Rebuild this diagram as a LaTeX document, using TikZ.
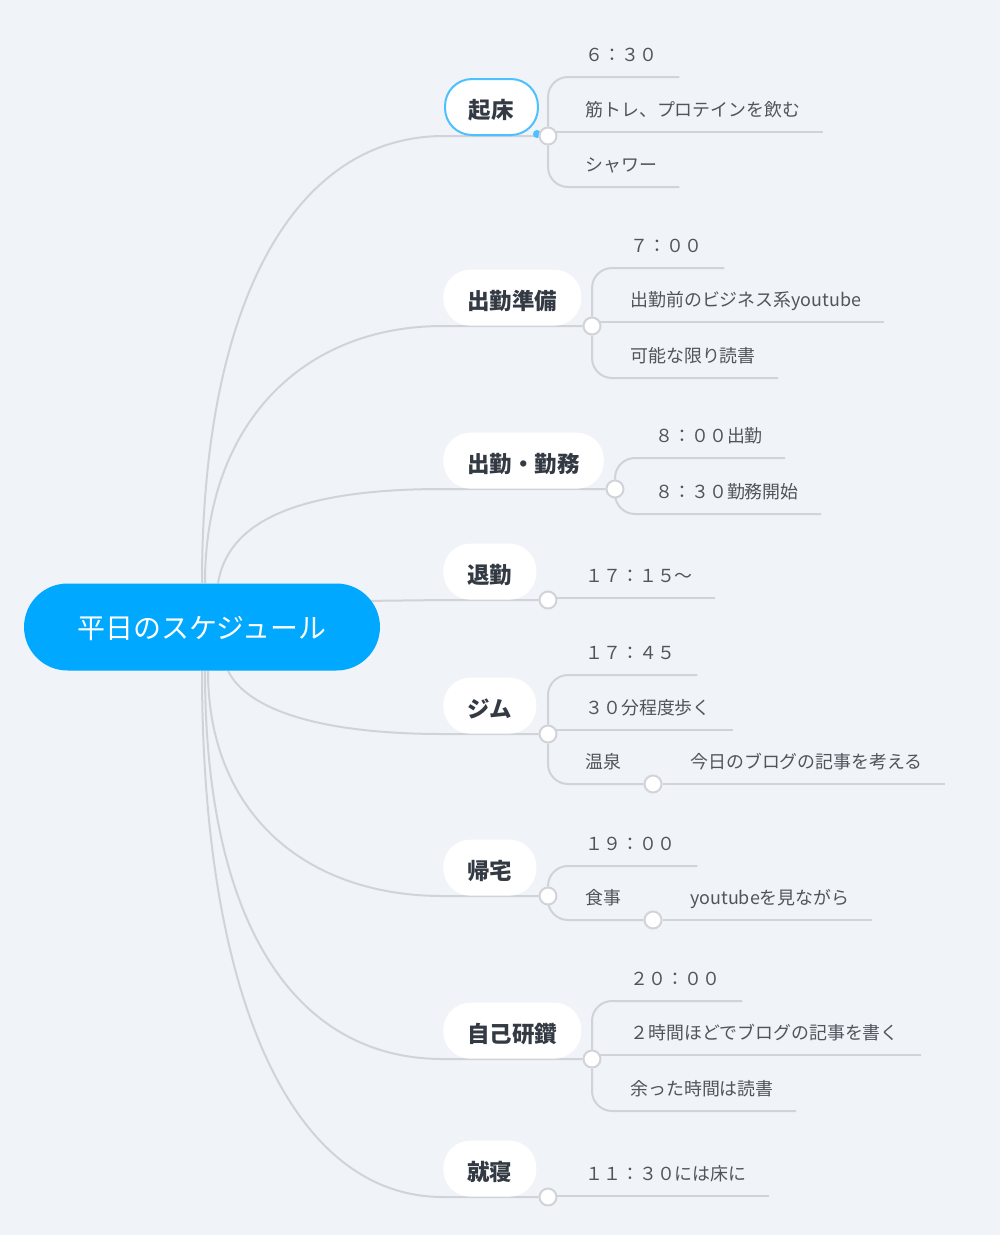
\documentclass[tikz,border=0pt]{standalone}
\usepackage{fontspec}
\setmainfont{Noto Sans CJK JP}
\usepackage{tikz}
\usetikzlibrary{positioning,backgrounds,calc}
\definecolor{mmBg}{HTML}{F0F3F7}
\definecolor{mmRoot}{HTML}{00A9FF}
\definecolor{mmSel}{HTML}{4DC1FF}
\definecolor{mmLine}{HTML}{D0D3D8}
\definecolor{mmInk}{HTML}{333A43}
\definecolor{mmText}{HTML}{50555C}
\tikzset{
  rootbox/.style={rectangle,rounded corners=0.87cm,
    minimum width=7.12cm,minimum height=1.74cm,inner sep=0pt,
    fill=mmRoot,text=white,text height=13pt,text depth=0pt,
    font=\fontsize{15.9}{19}\selectfont},
  topicbox/.style={rectangle,rounded corners=0.54cm,
    minimum height=1.12cm,inner xsep=0.48cm,inner ysep=0pt,
    fill=white,text=mmInk,text height=13.5pt,text depth=0pt,
    font=\fontsize{12.8}{15}\selectfont\bfseries,anchor=south west},
  selbox/.style={topicbox,draw=mmSel,line width=0.04cm},
  leafbox/.style={inner xsep=0.44cm,inner ysep=6.5pt,
    text height=8pt,text depth=2pt,text=mmText,
    font=\fontsize{10.2}{12}\selectfont,anchor=south west},
  knot/.style={circle,draw=mmLine,fill=white,line width=0.04cm,
    minimum size=0.34cm,inner sep=0pt},
  seldot/.style={circle,fill=mmSel,minimum size=0.16cm,inner sep=0pt},
  conn/.style={draw=mmLine,line width=0.04cm},
  brace/.style={conn,rounded corners=0.4cm},
}
\begin{document}
\begin{tikzpicture}[x=0.02cm,y=-0.02cm]
  \useasboundingbox (0,0) rectangle (1000,1235);
  \node[rootbox] (root) at (202,627) {平日のスケジュール};

  \node[selbox] (wake) at (444,136) {起床};
  \node[seldot] (wakedot) at ([shift={(-0.04cm,0.04cm)}]wake.south east) {};
  \node[knot] (wakeknot) at (548,136) {};
  \node[leafbox] (wake1) at (563,77) {６：３０};
  \node[leafbox] (wake2) at (563,132) {筋トレ、プロテインを飲む};
  \node[leafbox] (wake3) at (563,187) {シャワー};

  \node[topicbox] (prep) at (443,326) {出勤準備};
  \node[knot] (prepknot) at (592,326) {};
  \node[leafbox] (prep1) at (608,268) {７：００};
  \node[leafbox] (prep2) at (608,322) {出勤前のビジネス系youtube};
  \node[leafbox] (prep3) at (608,378) {可能な限り読書};

  \node[topicbox] (work) at (443,489) {出勤・勤務};
  \node[knot] (workknot) at (615,489) {};
  \node[leafbox] (work1) at (633,458) {８：００出勤};
  \node[leafbox] (work2) at (633,514) {８：３０勤務開始};

  \node[topicbox] (off) at (443,600) {退勤};
  \node[knot] (offknot) at (548,600) {};
  \node[leafbox] (off1) at (563,598) {１７：１５～};

  \node[topicbox] (gym) at (443,734) {ジム};
  \node[knot] (gymknot) at (548,734) {};
  \node[leafbox] (gym1) at (563,675) {１７：４５};
  \node[leafbox] (gym2) at (563,730) {３０分程度歩く};
  \node[leafbox] (gym3) at (563,784) {温泉};
  \node[knot] (gym3knot) at (653,784) {};
  \node[leafbox] (gym3a) at (668,784) {今日のブログの記事を考える};

  \node[topicbox] (home) at (443,896) {帰宅};
  \node[knot] (homeknot) at (548,896) {};
  \node[leafbox] (home1) at (563,866) {１９：００};
  \node[leafbox] (home2) at (563,920) {食事};
  \node[knot] (home2knot) at (653,920) {};
  \node[leafbox] (home2a) at (668,920) {youtubeを見ながら};

  \node[topicbox] (study) at (443,1059) {自己研鑽};
  \node[knot] (studyknot) at (592,1059) {};
  \node[leafbox] (study1) at (608,1001) {２０：００};
  \node[leafbox] (study2) at (608,1055) {２時間ほどでブログの記事を書く};
  \node[leafbox] (study3) at (608,1111) {余った時間は読書};

  \node[topicbox] (sleep) at (443,1197) {就寝};
  \node[knot] (sleepknot) at (548,1197) {};
  \node[leafbox] (sleep1) at (563,1196) {１１：３０には床に};

  \begin{pgfonlayer}{background}
    \fill[mmBg] (0,0) rectangle (1000,1235);
    \draw[conn] (root.north) .. controls +(0,-280) and +(-150,0) .. (wake.south west) -- (wakeknot);
    \draw[conn] ([xshift=0.06cm]root.north) .. controls +(0,-160) and +(-140,0) .. (prep.south west) -- (prepknot);
    \draw[conn] ([xshift=0.32cm]root.north) .. controls +(10,-60) and +(-150,0) .. (work.south west) -- (workknot);
    \draw[conn] ([shift={(-0.4cm,0.52cm)}]root.east) -- (off.south west) -- (offknot);
    \draw[conn] ([xshift=0.52cm]root.south) .. controls +(20,40) and +(-120,0) .. (gym.south west) -- (gymknot);
    \draw[conn] ([xshift=0.12cm]root.south) .. controls +(0,140) and +(-140,0) .. (home.south west) -- (homeknot);
    \draw[conn] ([xshift=0.06cm]root.south) .. controls +(0,250) and +(-150,0) .. (study.south west) -- (studyknot);
    \draw[conn] (root.south) .. controls +(0,330) and +(-150,0) .. (sleep.south west) -- (sleepknot);

    \draw[brace] (wakeknot) |- (wake1.south east);
    \draw[conn] (wakeknot |- wake2.south west) -- (wake2.south east);
    \draw[brace] (wakeknot) |- (wake3.south east);
    \draw[brace] (prepknot) |- (prep1.south east);
    \draw[conn] (prepknot |- prep2.south west) -- (prep2.south east);
    \draw[brace] (prepknot) |- (prep3.south east);
    \draw[brace] (workknot) |- (work1.south east);
    \draw[brace] (workknot) |- (work2.south east);
    \draw[conn] (offknot |- off1.south west) -- (off1.south east);
    \draw[brace] (gymknot) |- (gym1.south east);
    \draw[conn] (gymknot |- gym2.south west) -- (gym2.south east);
    \draw[brace] (gymknot) |- (gym3knot);
    \draw[conn] (gym3knot) -- (gym3a.south east);
    \draw[brace] (homeknot) |- (home1.south east);
    \draw[brace] (homeknot) |- (home2knot);
    \draw[conn] (home2knot) -- (home2a.south east);
    \draw[brace] (studyknot) |- (study1.south east);
    \draw[conn] (studyknot |- study2.south west) -- (study2.south east);
    \draw[brace] (studyknot) |- (study3.south east);
    \draw[conn] (sleepknot |- sleep1.south west) -- (sleep1.south east);
  \end{pgfonlayer}
\end{tikzpicture}
\end{document}
